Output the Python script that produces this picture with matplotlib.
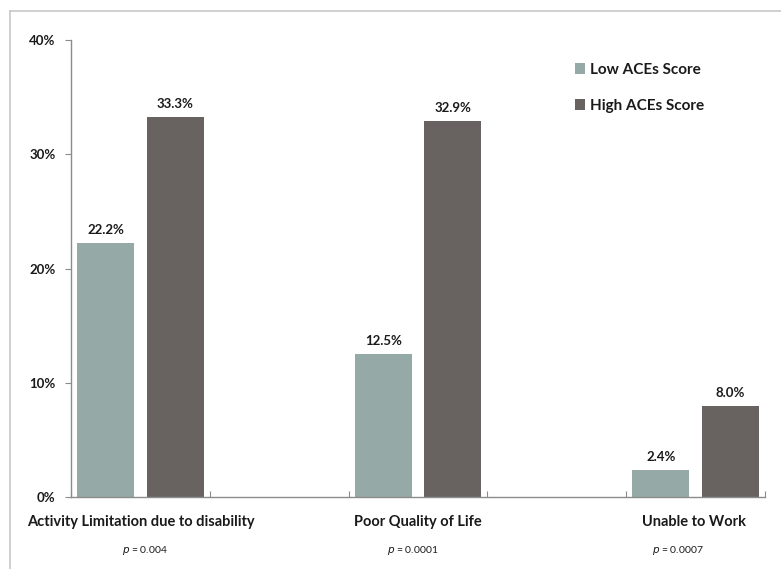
import matplotlib
matplotlib.use("Agg")
import matplotlib.pyplot as plt
from matplotlib.lines import Line2D
import numpy as np

categories = ["Activity Limitation due to disability", "Poor Quality of Life", "Unable to Work"]
p_values = ["0.004", "0.0001", "0.0007"]
low_aces = [22.2, 12.5, 2.4]
high_aces = [33.3, 32.9, 8.0]
series_names = ["Low ACEs Score", "High ACEs Score"]
y_ticks = [0, 10, 20, 30, 40]

LOW_COLOR = "#95a9a6"
HIGH_COLOR = "#686361"
AXIS_COLOR = "#8c8c8c"

plt.rcParams["font.family"] = ["Lato", "DejaVu Sans"]
plt.rcParams["mathtext.fontset"] = "dejavusans"

fig = plt.figure(figsize=(7.81, 5.69), dpi=100)
ax = fig.add_axes([0.0909, 0.1265, 0.8886, 0.8032])

# categories sit on every other slot, leaving empty slots between groups
pos = np.arange(len(categories)) * 2
width = 0.41
offset = 0.25

bars_low = ax.bar(pos - offset, low_aces, width, color=LOW_COLOR, label=series_names[0])
bars_high = ax.bar(pos + offset, high_aces, width, color=HIGH_COLOR, label=series_names[1])

for bars, vals in ((bars_low, low_aces), (bars_high, high_aces)):
    for b, v in zip(bars, vals):
        ax.annotate(f"{v:.1f}%", (b.get_x() + b.get_width() / 2, v),
                    xytext=(0, 5), textcoords="offset points",
                    ha="center", va="bottom", fontsize=9.5, fontweight="bold",
                    color="#1a1a1a")

ax.set_xlim(-0.5, pos[-1] + 0.5)
ax.set_ylim(0, 40)
ax.set_yticks(y_ticks)
ax.set_yticklabels([f"{t}%" for t in y_ticks], fontsize=9.5, fontweight="bold", color="#1a1a1a")
ax.set_xticks(np.arange(-0.5, pos[-1] + 1, 1.0))
ax.set_xticklabels([])
ax.tick_params(axis="y", direction="out", length=4, color=AXIS_COLOR, pad=7)
ax.tick_params(axis="x", direction="in", length=4, color=AXIS_COLOR)

for side in ("top", "right"):
    ax.spines[side].set_visible(False)
for side in ("left", "bottom"):
    ax.spines[side].set_color(AXIS_COLOR)
    ax.spines[side].set_linewidth(1.0)

label_x = [0.0, 2.0, 3.99]
p_x = [0.03, 1.96, 3.87]
for lx, px, name, p in zip(label_x, p_x, categories, p_values):
    ax.text(lx, -0.055, name, transform=ax.get_xaxis_transform(),
            ha="center", va="center", fontsize=10.5, fontweight="bold", color="#1a1a1a")
    ax.text(px, -0.116, f"$\\mathit{{p}}$ = {p}", transform=ax.get_xaxis_transform(),
            ha="center", va="center", fontsize=7.5, color="#1a1a1a")

leg = ax.legend(loc="upper left", bbox_to_anchor=(0.706, 0.98), frameon=False,
                handlelength=0.7, handleheight=0.7, handletextpad=0.3,
                labelspacing=1.45, prop={"size": 11, "weight": "bold"})
for t in leg.get_texts():
    t.set_color("#1a1a1a")

# outer frame lines along the top and left edges
fig.add_artist(Line2D([0.0122, 0.0122], [0.0, 0.9815], transform=fig.transFigure,
                      color="#c8c8c8", linewidth=1.2))
fig.add_artist(Line2D([0.0122, 1.0], [0.9815, 0.9815], transform=fig.transFigure,
                      color="#c8c8c8", linewidth=1.2))

fig.savefig("out.png", dpi=100, facecolor="white")
